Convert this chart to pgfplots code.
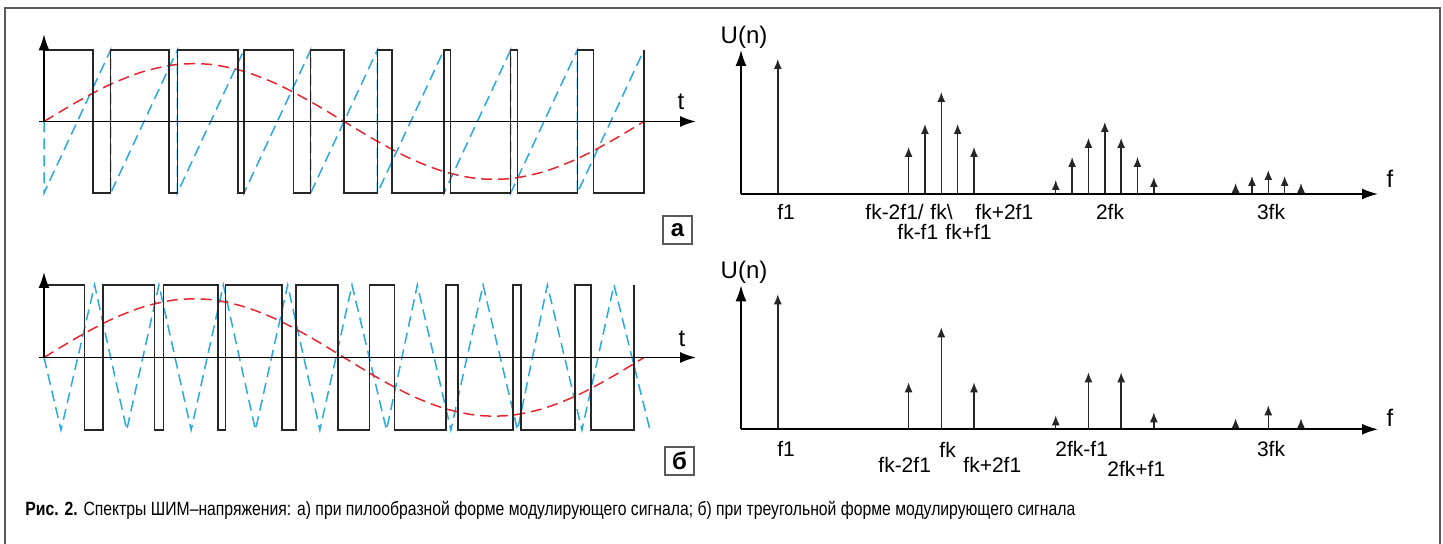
\documentclass[border=0pt]{standalone}
\usepackage{fontspec}
\setmainfont{Liberation Sans}
\newfontfamily\capfont{Liberation Sans}[FakeStretch=0.82]
\usepackage{pgfplots}
\pgfplotsset{compat=1.18}
\usetikzlibrary{arrows.meta}

\definecolor{sinred}{HTML}{E8262D}
\definecolor{sawblue}{HTML}{2AA9E0}
\definecolor{framegray}{HTML}{5A5A5A}

\newcommand\lbl{\fontsize{10.5}{12}\selectfont}
\newcommand\axl{\fontsize{12}{14}\selectfont}

\tikzset{axarrow/.style={line width=0.85pt, -{Latex[length=8pt,width=5.5pt]}}}

\pgfplotsset{
  sig/.style={hide axis, scale only axis, clip=false, xmin=0, xmax=9, ymin=-1, ymax=1,
    width=300pt, anchor=south west},
  spec/.style={hide axis, scale only axis, clip=false, xmin=0, xmax=40, ymin=0, ymax=150,
    width=327pt, height=75pt, anchor=south west},
  carrier/.style={sawblue, line width=0.75pt, dash pattern=on 5.5pt off 3pt, no markers},
  modul/.style={sinred, line width=0.75pt, dash pattern=on 5.5pt off 3pt, smooth, no markers},
  pwm/.style={black!85, line width=0.8pt, sharp plot, no markers},
  specline/.style={black!85, line width=0.7pt, no markers, quiver={u=0, v=\thisrow{h}},
    -{Latex[length=5pt,width=4pt]}},
}

\pgfplotstableread{
x y
0 0
0.5 0.277
1 0.521
1.5 0.701
2 0.798
2.5 0.798
3 0.701
3.5 0.521
4 0.277
4.5 0
5 -0.277
5.5 -0.521
6 -0.701
6.5 -0.798
7 -0.798
7.5 -0.701
8 -0.521
8.5 -0.277
9 0
}\sinetab

\pgfplotstableread{
x y h
2.25 0 135
10.25 0 47
11.25 0 70
12.25 0 102
13.25 0 70
14.25 0 47
19.25 0 14
20.25 0 37
21.25 0 56
22.25 0 72
23.25 0 56
24.25 0 37
25.25 0 17
30.25 0 11
31.25 0 18
32.25 0 24
33.25 0 18
34.25 0 11
}\specA

\pgfplotstableread{
x y h
2.25 0 135
10.25 0 47
12.25 0 102
14.25 0 47
19.25 0 14
21.25 0 57
23.25 0 57
25.25 0 17
30.25 0 11
32.25 0 24
34.25 0 11
}\specB

\begin{document}
\begin{tikzpicture}
\useasboundingbox (0,0) rectangle (721.5pt,272pt);

% а) sawtooth carrier
\begin{axis}[sig, height=71.5pt, at={(22pt,175.5pt)}]
  \addplot[carrier] coordinates {(0,0) (0,-1) (1,1) (1,-1) (2,1) (2,-1) (3,1) (3,-1) (4,1)
    (4,-1) (5,1) (5,-1) (6,1) (6,-1) (7,1) (7,-1) (8,1) (8,-1) (9,1)};
  \addplot[modul] table {\sinetab};
  \addplot[pwm] coordinates {(0,1) (0.738,1) (0.738,-1) (1,-1) (1,1) (1.876,1) (1.876,-1)
    (2,-1) (2,1) (2.91,1) (2.91,-1) (3,-1) (3,1) (3.74,1) (3.74,-1) (4,-1) (4,1) (4.50,1)
    (4.50,-1) (5,-1) (5,1) (5.22,1) (5.22,-1) (6,-1) (6,1) (6.10,1) (6.10,-1) (7,-1) (7,1)
    (7.10,1) (7.10,-1) (8,-1) (8,1) (8.24,1) (8.24,-1) (9,-1) (9,1)};
  \draw[axarrow] (axis cs:-0.08,0) -- (axis cs:9.78,0);
  \draw[axarrow] (axis cs:0,0) -- (axis cs:0,1.22);
\end{axis}

% б) triangle carrier
\begin{axis}[sig, height=72.5pt, at={(22pt,57pt)}]
  \addplot[carrier] coordinates {(0,0) (0.255,-1) (0.759,1) (1.241,-1) (1.724,1) (2.207,-1)
    (2.69,1) (3.172,-1) (3.655,1) (4.138,-1) (4.62,1) (5.138,-1) (5.6,1) (6.103,-1)
    (6.586,1) (7.103,-1) (7.55,1) (8.069,-1) (8.55,1) (9.09,-1)};
  \addplot[modul] table {\sinetab};
  \addplot[pwm] coordinates {(0,1) (0.607,1) (0.607,-1) (0.883,-1) (0.883,1) (1.655,1)
    (1.655,-1) (1.793,-1) (1.793,1) (2.607,1) (2.607,-1) (2.724,-1) (2.724,1) (3.572,1)
    (3.572,-1) (3.779,-1) (3.779,1) (4.414,1) (4.414,-1) (4.883,-1) (4.883,1) (5.255,1)
    (5.255,-1) (6.034,-1) (6.034,1) (6.207,1) (6.207,-1) (7.034,-1) (7.034,1) (7.159,1)
    (7.159,-1) (7.966,-1) (7.966,1) (8.207,1) (8.207,-1) (8.848,-1) (8.848,1)};
  \draw[axarrow] (axis cs:-0.08,0) -- (axis cs:9.78,0);
  \draw[axarrow] (axis cs:0,0) -- (axis cs:0,1.18);
\end{axis}

% spectrum а
\begin{axis}[spec, at={(370.5pt,175pt)}]
  \addplot[specline] table[x=x, y=y] {\specA};
  \draw[axarrow] (axis cs:0,0) -- (axis cs:38.96,0);
  \draw[axarrow] (axis cs:0,0) -- (axis cs:0,144);
\end{axis}

% spectrum б
\begin{axis}[spec, at={(370.5pt,57.35pt)}]
  \addplot[specline] table[x=x, y=y] {\specB};
  \draw[axarrow] (axis cs:0,0) -- (axis cs:38.96,0);
  \draw[axarrow] (axis cs:0,0) -- (axis cs:0,144);
\end{axis}

\begin{scope}[x=0.5pt, y=0.5pt]
  \draw[framegray, line width=0.75pt] (5,0) -- (5,536) -- (1440,536) -- (1440,0);
  % time-axis labels
  \node[anchor=base] at (681,434) {\axl t};
  \node[anchor=base] at (682,197) {\axl t};
  \draw[framegray, line width=0.8pt] (663,300) rectangle (692,328);
  \node at (677.5,314) {\fontsize{12}{14}\selectfont\bfseries а};
  \draw[framegray, line width=0.8pt] (665,69) rectangle (694,97);
  \node at (679.5,83) {\fontsize{12}{14}\selectfont\bfseries б};
  % spectrum а labels
  \node[anchor=base] at (744,500) {\axl U(n)};
  \node[anchor=base] at (1390,356) {\axl f};
  \node[anchor=base] at (786,324) {\lbl f1};
  \node[anchor=base west, inner sep=0pt] at (865,324) {\lbl fk-2f1/};
  \node[anchor=base west, inner sep=0pt] at (930,324) {\lbl fk\textbackslash};
  \node[anchor=base west, inner sep=0pt] at (975,324) {\lbl fk+2f1};
  \node[anchor=base west, inner sep=0pt] at (897,304) {\lbl fk-f1};
  \node[anchor=base west, inner sep=0pt] at (945,304) {\lbl fk+f1};
  \node[anchor=base] at (1110,324) {\lbl 2fk};
  \node[anchor=base] at (1271,324) {\lbl 3fk};
  % spectrum б labels
  \node[anchor=base] at (744,265) {\axl U(n)};
  \node[anchor=base] at (1390,117) {\axl f};
  \node[anchor=base] at (786,87) {\lbl f1};
  \node[anchor=base west, inner sep=0pt] at (878,71) {\lbl fk-2f1};
  \node[anchor=base west, inner sep=0pt] at (939,86) {\lbl fk};
  \node[anchor=base west, inner sep=0pt] at (963,71) {\lbl fk+2f1};
  \node[anchor=base west, inner sep=0pt] at (1055,87) {\lbl 2fk-f1};
  \node[anchor=base west, inner sep=0pt] at (1107,67) {\lbl 2fk+f1};
  \node[anchor=base] at (1271,87) {\lbl 3fk};
  % caption
  \node[anchor=base west, inner sep=0pt] at (25,28) {\capfont\fontsize{9.6}{11}\selectfont
    \textbf{Рис. 2.} Спектры ШИМ–напряжения: а) при пилообразной форме модулирующего сигнала; б) при треугольной форме модулирующего сигнала};
\end{scope}
\end{tikzpicture}
\end{document}
